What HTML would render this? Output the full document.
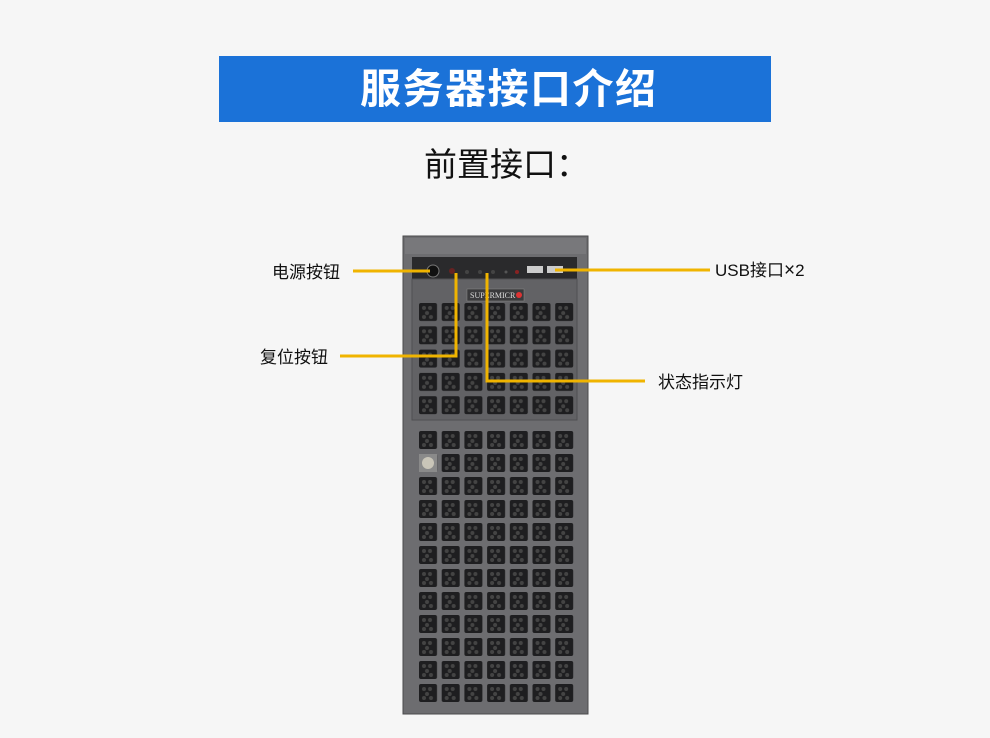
<!DOCTYPE html>
<html><head><meta charset="utf-8"><style>
body{margin:0;width:990px;height:738px;background:#f6f6f6;overflow:hidden;position:relative;font-family:"Liberation Sans","Noto Sans CJK SC",sans-serif}
.title{position:absolute;left:219px;top:56px;width:552px;height:66px;background:#1b72d8}
.tt{position:absolute;left:360px;top:56px;width:300px;height:66px;color:#fff;font-size:41px;font-weight:bold;line-height:66px;letter-spacing:1.5px;white-space:nowrap}
.sub{position:absolute;left:424px;top:142px;font-size:33px;color:#111;line-height:46px;white-space:nowrap}
.lbl{position:absolute;font-size:17px;color:#111;line-height:20px;white-space:nowrap}
</style></head><body>
<div class="title"></div>
<div class="tt">服务器接口介绍</div>
<div class="sub">前置接口：</div>
<svg width="990" height="738" style="position:absolute;left:0;top:0">
<defs>
<pattern id="g" x="419" y="303" width="22.7" height="23.3" patternUnits="userSpaceOnUse">
<rect x="0" y="0" width="18" height="18" rx="2" fill="#1e1e20"/>
<circle cx="5" cy="5" r="2" fill="#444"/><circle cx="11" cy="5" r="2" fill="#444"/>
<circle cx="8" cy="10" r="2" fill="#444"/><circle cx="5" cy="14" r="2" fill="#444"/><circle cx="12" cy="14" r="2" fill="#444"/>
</pattern>
<pattern id="g2" x="419" y="431" width="22.7" height="23" patternUnits="userSpaceOnUse">
<rect x="0" y="0" width="18" height="18" rx="2" fill="#1e1e20"/>
<circle cx="5" cy="5" r="2" fill="#444"/><circle cx="11" cy="5" r="2" fill="#444"/>
<circle cx="8" cy="10" r="2" fill="#444"/><circle cx="5" cy="14" r="2" fill="#444"/><circle cx="12" cy="14" r="2" fill="#444"/>
</pattern>
</defs>
<rect x="403" y="236" width="185" height="478" fill="#6d6d70" stroke="#4a4a4c"/>
<rect x="405" y="238" width="181" height="16" fill="#78787b"/>
<rect x="412" y="257" width="165" height="22" fill="#2a2a2c"/>
<rect x="412" y="279" width="165" height="141" fill="#626265" stroke="#505052"/>
<rect x="419" y="303" width="155" height="114" fill="url(#g)"/>
<rect x="419" y="431" width="155" height="274" fill="url(#g2)"/>
<rect x="419" y="454" width="18" height="18" fill="#8a8a8a"/>
<circle cx="428" cy="463" r="6" fill="#c9c5b8"/>
<rect x="467" y="289" width="57" height="12" fill="#3a3a3c" stroke="#888" stroke-width="0.5"/>
<text x="470" y="298" font-size="8" fill="#ddd" font-family="Liberation Serif">SUPERMICR</text>
<circle cx="519" cy="295" r="3" fill="#d33"/>
<circle cx="433" cy="271" r="6" fill="#111" stroke="#777"/>
<circle cx="452" cy="271" r="3" fill="#622"/>
<circle cx="467" cy="272" r="2" fill="#444"/><circle cx="480" cy="272" r="2" fill="#444"/><circle cx="493" cy="272" r="2" fill="#444"/>
<circle cx="506" cy="272" r="1.5" fill="#555"/><circle cx="517" cy="272" r="2" fill="#822"/>
<rect x="527" y="266" width="16" height="7" fill="#ccc"/><rect x="547" y="266" width="16" height="7" fill="#ccc"/>
<g stroke="#f0b400" stroke-width="3" fill="none">
<polyline points="353,271 430,271"/>
<polyline points="340,356 456,356 456,273"/>
<polyline points="487,273 487,381 645,381"/>
<polyline points="555,270 710,270"/>
</g>
</svg>
<div class="lbl" style="left:272px;top:263px">电源按钮</div>
<div class="lbl" style="left:260px;top:348px">复位按钮</div>
<div class="lbl" style="left:658px;top:373px">状态指示灯</div>
<div class="lbl" style="left:715px;top:261px">USB接口<span style="font-size:19px">×</span>2</div>
</body></html>
